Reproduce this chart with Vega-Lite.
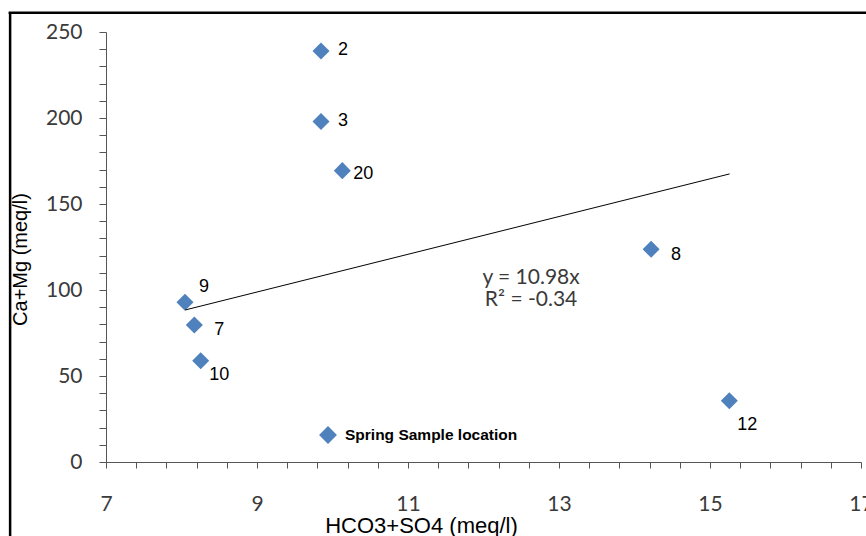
{
  "$schema": "https://vega.github.io/schema/vega-lite/v6.json",
  "width": 755,
  "height": 430,
  "autosize": {"type": "none"},
  "padding": {"left": 106, "top": 32, "right": 5, "bottom": 74},
  "background": "white",
  "config": {"view": {"stroke": null}, "font": "Liberation Sans"},
  "datasets": {
    "points": [
      {"x": 9.848, "y": 239, "id": "2"},
      {"x": 9.848, "y": 198, "id": "3"},
      {"x": 10.13, "y": 169.4, "id": "20"},
      {"x": 14.22, "y": 123.7, "id": "8"},
      {"x": 8.046, "y": 92.9, "id": "9"},
      {"x": 8.17, "y": 79.7, "id": "7"},
      {"x": 8.254, "y": 58.9, "id": "10"},
      {"x": 15.256, "y": 35.6, "id": "12"}
    ],
    "trend": [
      {"x": 8.05, "y": 88.4},
      {"x": 15.26, "y": 167.5}
    ]
  },
  "layer": [
    {
      "data": {"name": "points"},
      "mark": {"type": "point", "shape": "diamond", "filled": true, "opacity": 1, "size": 290},
      "encoding": {
        "x": {
          "field": "x", "type": "quantitative",
          "scale": {"domain": [7, 17], "nice": false, "zero": false},
          "axis": {
            "values": [7, 7.4, 7.8, 8.2, 8.6, 9, 9.4, 9.8, 10.2, 10.6, 11, 11.4, 11.8, 12.2, 12.6, 13, 13.4, 13.8, 14.2, 14.6, 15, 15.4, 15.8, 16.2, 16.6, 17],
            "tickCount": 200,
            "labelExpr": "abs(datum.value - round(datum.value)) < 0.01 ? format(datum.value, 'd') : ''",
            "tickSize": 6,
            "grid": false,
            "domainColor": "#555555",
            "tickColor": "#555555",
            "labelFont": "Lato",
            "labelFontSize": 21,
            "labelColor": "#3a3a3a",
            "labelPadding": 25,
            "labelFlush": false,
            "labelOverlap": false,
            "labelBound": false,
            "title": "HCO3+SO4 (meq/l)",
            "titleFont": "Liberation Sans",
            "titleFontSize": 22,
            "titleFontWeight": "normal",
            "titleColor": "black",
            "titleX": 315,
            "titleY": 70.5,
            "titleAlign": "center",
            "titleBaseline": "alphabetic"
          }
        },
        "y": {
          "field": "y", "type": "quantitative",
          "scale": {"domain": [0, 250], "nice": false, "zero": false},
          "axis": {
            "values": [0, 10, 20, 30, 40, 50, 60, 70, 80, 90, 100, 110, 120, 130, 140, 150, 160, 170, 180, 190, 200, 210, 220, 230, 240, 250],
            "tickCount": 200,
            "labelExpr": "datum.value % 50 == 0 ? format(datum.value, 'd') : ''",
            "tickSize": 7,
            "grid": false,
            "domainColor": "#555555",
            "tickColor": "#555555",
            "labelFont": "Lato",
            "labelFontSize": 21,
            "labelColor": "#3a3a3a",
            "labelPadding": 17,
            "labelOverlap": false,
            "labelFlush": false,
            "labelBound": false,
            "title": "Ca+Mg (meq/l)",
            "titleFont": "Liberation Sans",
            "titleFontSize": 20,
            "titleFontWeight": "normal",
            "titleColor": "black",
            "titleX": -86,
            "titleY": 227,
            "titleAlign": "center",
            "titleBaseline": "middle"
          }
        },
        "color": {
          "datum": "Spring Sample location",
          "type": "nominal",
          "scale": {"range": ["#4F81BD"]},
          "legend": {
            "orient": "none",
            "legendX": 213,
            "legendY": 394,
            "title": null,
            "padding": 0,
            "symbolType": "diamond",
            "symbolSize": 320,
            "symbolStrokeWidth": 0,
            "labelFont": "Liberation Sans",
            "labelFontWeight": "bold",
            "labelFontSize": 15.5,
            "labelColor": "black",
            "labelOffset": 8,
            "labelLimit": 0
          }
        }
      }
    },
    {
      "data": {"values": [{}]},
      "mark": {"type": "rule", "color": "black", "strokeWidth": 2.5},
      "encoding": {
        "x": {"datum": 5.73, "type": "quantitative"},
        "y": {"datum": 261.2, "type": "quantitative"},
        "y2": {"datum": -60}
      }
    },
    {
      "data": {"values": [{}]},
      "mark": {"type": "rule", "color": "black", "strokeWidth": 2.5},
      "encoding": {
        "x": {"datum": 5.71, "type": "quantitative"},
        "x2": {"datum": 17.3},
        "y": {"datum": 261.2, "type": "quantitative"}
      }
    },
    {
      "data": {"name": "trend"},
      "mark": {"type": "line", "color": "black", "strokeWidth": 1},
      "encoding": {
        "x": {"field": "x", "type": "quantitative"},
        "y": {"field": "y", "type": "quantitative"}
      }
    },
    {
      "data": {"name": "points"},
      "transform": [{"filter": {"field": "id", "oneOf": ["2", "3"]}}],
      "mark": {"type": "text", "align": "left", "baseline": "middle", "dx": 17, "dy": -0.5, "fontSize": 18, "font": "Liberation Sans", "color": "black"},
      "encoding": {
        "x": {"field": "x", "type": "quantitative"},
        "y": {"field": "y", "type": "quantitative"},
        "text": {"field": "id"}
      }
    },
    {
      "data": {"name": "points"},
      "transform": [{"filter": {"field": "id", "oneOf": ["8", "7"]}}],
      "mark": {"type": "text", "align": "left", "baseline": "middle", "dx": 20, "dy": 5.5, "fontSize": 18, "font": "Liberation Sans", "color": "black"},
      "encoding": {
        "x": {"field": "x", "type": "quantitative"},
        "y": {"field": "y", "type": "quantitative"},
        "text": {"field": "id"}
      }
    },
    {
      "data": {"name": "points"},
      "transform": [{"filter": {"field": "id", "oneOf": ["20"]}}],
      "mark": {"type": "text", "align": "left", "baseline": "middle", "dx": 11, "dy": 3, "fontSize": 18, "font": "Liberation Sans", "color": "black"},
      "encoding": {
        "x": {"field": "x", "type": "quantitative"},
        "y": {"field": "y", "type": "quantitative"},
        "text": {"field": "id"}
      }
    },
    {
      "data": {"name": "points"},
      "transform": [{"filter": {"field": "id", "oneOf": ["9"]}}],
      "mark": {"type": "text", "align": "left", "baseline": "middle", "dx": 14, "dy": -15, "fontSize": 18, "font": "Liberation Sans", "color": "black"},
      "encoding": {
        "x": {"field": "x", "type": "quantitative"},
        "y": {"field": "y", "type": "quantitative"},
        "text": {"field": "id"}
      }
    },
    {
      "data": {"name": "points"},
      "transform": [{"filter": {"field": "id", "oneOf": ["10"]}}],
      "mark": {"type": "text", "align": "left", "baseline": "middle", "dx": 8.5, "dy": 14.5, "fontSize": 18, "font": "Liberation Sans", "color": "black"},
      "encoding": {
        "x": {"field": "x", "type": "quantitative"},
        "y": {"field": "y", "type": "quantitative"},
        "text": {"field": "id"}
      }
    },
    {
      "data": {"name": "points"},
      "transform": [{"filter": {"field": "id", "oneOf": ["12"]}}],
      "mark": {"type": "text", "align": "left", "baseline": "middle", "dx": 8, "dy": 24, "fontSize": 18, "font": "Liberation Sans", "color": "black"},
      "encoding": {
        "x": {"field": "x", "type": "quantitative"},
        "y": {"field": "y", "type": "quantitative"},
        "text": {"field": "id"}
      }
    },
    {
      "data": {"values": [{}]},
      "mark": {"type": "text", "align": "center", "baseline": "middle", "text": ["y = 10.98x", "R² = -0.34"], "lineHeight": 22, "fontSize": 21, "font": "Lato", "color": "#3a3a3a"},
      "encoding": {
        "x": {"datum": 12.63, "type": "quantitative"},
        "y": {"datum": 107, "type": "quantitative"}
      }
    }
  ]
}
